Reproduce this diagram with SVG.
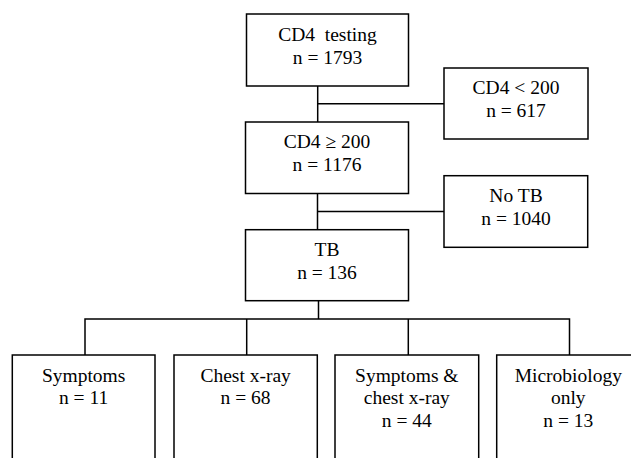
<svg xmlns="http://www.w3.org/2000/svg" width="631" height="458" viewBox="0 0 631 458">
<style>
.box{fill:#fff;stroke:#000;stroke-width:1.5}
.ln{fill:none;stroke:#000;stroke-width:1.5}
text{font-family:"Liberation Serif","Times New Roman",serif;font-size:19.5px;fill:#000;text-anchor:middle}
</style>
<rect width="631" height="458" fill="#fff"/>
<g id="connectors">
<path class="ln" d="M317.7,86 V122 M317.7,103.7 H444"/>
<path class="ln" d="M317.5,193.5 V229.7 M317.5,211.5 H444"/>
<path class="ln" d="M318.5,300.7 V319 M85,355 V319 H569.5 V355 M246.7,319 V355 M408.3,319 V355"/>
</g>
<g id="cd4-testing">
<rect class="box" x="246.5" y="14" width="162" height="72"/>
<text x="327.5" y="40.7" xml:space="preserve">CD4  testing</text>
<text x="327.5" y="63.5">n = 1793</text>
</g>
<g id="cd4-lt-200">
<rect class="box" x="444" y="68" width="144" height="71"/>
<text x="516" y="94.3">CD4 &lt; 200</text>
<text x="516" y="117.3">n = 617</text>
</g>
<g id="cd4-ge-200">
<rect class="box" x="245.5" y="122" width="163" height="71.5"/>
<text x="327" y="147.7">CD4 ≥ 200</text>
<text x="327" y="170.7">n = 1176</text>
</g>
<g id="no-tb">
<rect class="box" x="444" y="175.7" width="143.7" height="71.6"/>
<text x="516" y="202.3">No TB</text>
<text x="516" y="224.5">n = 1040</text>
</g>
<g id="tb">
<rect class="box" x="245.5" y="229.7" width="163" height="71"/>
<text x="327" y="256">TB</text>
<text x="327" y="278.5">n = 136</text>
</g>
<g id="symptoms">
<rect class="box" x="12.3" y="355" width="142.7" height="120"/>
<text x="83.6" y="381.7">Symptoms</text>
<text x="83.6" y="404">n = 11</text>
</g>
<g id="chest-xray">
<rect class="box" x="174" y="355" width="143.3" height="120"/>
<text x="245.6" y="381.7">Chest x-ray</text>
<text x="245.6" y="404">n = 68</text>
</g>
<g id="symptoms-chest">
<rect class="box" x="335" y="355" width="143.7" height="120"/>
<text x="406.8" y="381.7">Symptoms &amp;</text>
<text x="406.8" y="404">chest x-ray</text>
<text x="406.8" y="426.5">n = 44</text>
</g>
<g id="microbiology">
<rect class="box" x="496.7" y="355" width="143.3" height="120"/>
<text x="568.3" y="381.7">Microbiology</text>
<text x="568.3" y="404">only</text>
<text x="568.3" y="426.5">n = 13</text>
</g>
</svg>
